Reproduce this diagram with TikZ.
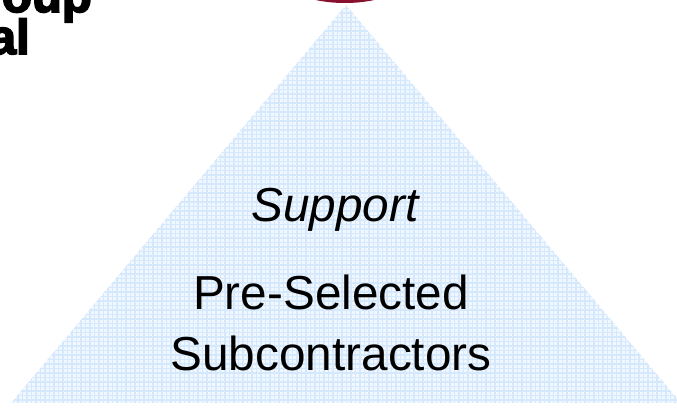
\documentclass[tikz,border=0pt]{standalone}
\usepackage{fontspec}
\setmainfont{Liberation Sans}
\newfontfamily\logofont[BoldFeatures={FakeBold=3.5}]{Liberation Sans}
\definecolor{meshblue}{HTML}{CFE5FB}
\definecolor{wineRed}{HTML}{8A1030}
\tikzset{
    labeltext/.style={font=\fontsize{47.7}{60}\selectfont, align=center, inner sep=0pt},
    logotext/.style={font=\logofont\bfseries\fontsize{49}{49}\selectfont, text=black, inner sep=0pt}
}

\begin{document}
\begin{tikzpicture}[x=1pt,y=1pt]
    \useasboundingbox (0,0) rectangle (677,409);
    \clip (0,0) rectangle (677,409);

    % Pyramid
    \fill[meshblue!30] (346,404) -- (11,6) -- (681,6) -- cycle;
    \begin{scope}
        \clip (346,404) -- (11,6) -- (681,6) -- cycle;
        \draw[step=4.5pt,meshblue!85,line width=1.3pt] (0,0) grid (681,409);
    \end{scope}

    % Dark red disc, cut by the top edge
    \fill[wineRed] (345,431) ellipse (62 and 25);

    % Logo fragments
    \node[logotext, anchor=base east] (logoTop) at (92,397) {oup};
    \node[logotext, anchor=base east] (logoBottom) at (30,355) {al};

    % Labels
    \node[labeltext, anchor=base] (support) at (335,187) {\itshape Support};
    \node[labeltext, anchor=base] (preselected) at (331,99) {Pre-Selected};
    \node[labeltext, anchor=base] (subcontractors) at (331,38) {Subcontractors};
\end{tikzpicture}
\end{document}
